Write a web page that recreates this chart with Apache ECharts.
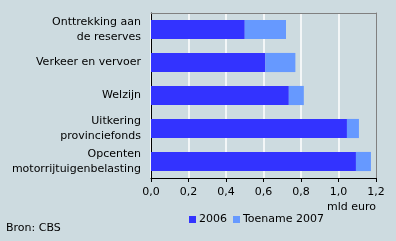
<!DOCTYPE html>
<html><head><meta charset="utf-8">
<script src="https://cdn.jsdelivr.net/npm/echarts@6/dist/echarts.min.js"></script>
<style>html,body{margin:0;padding:0;background:#cddbe0;}#c{width:396px;height:241px;}</style>
</head><body><div id="c"></div>
<script>
var categories = ['Onttrekking aan\nde reserves', 'Verkeer en vervoer', 'Welzijn', 'Uitkering\nprovinciefonds', 'Opcenten\nmotorrijtuigenbelasting'];
var values2006 = [0.50, 0.61, 0.735, 1.045, 1.093];
var valuesToename = [0.22, 0.16, 0.08, 0.064, 0.08];
var xTicks = [0, 0.2, 0.4, 0.6, 0.8, 1.0, 1.2];
var seriesNames = ['2006', 'Toename 2007'];

var font = 'DejaVu Sans';
var chart = echarts.init(document.getElementById('c'), null, {renderer: 'canvas'});
chart.setOption({
  backgroundColor: '#cddbe0',
  animation: false,
  textStyle: {fontFamily: font, fontSize: 11, color: '#000'},
  grid: {left: 151, right: 20, top: 13, bottom: 63, show: false},
  legend: {
    data: seriesNames, left: 184, top: 209, itemWidth: 7, itemHeight: 7, itemGap: 6, icon: 'rect',
    textStyle: {fontFamily: font, fontSize: 11, color: '#000', padding: [0,0,0,-2]}
  },
  graphic: [
    {type: 'text', left: 6, top: 223, style: {text: 'Bron: CBS', font: '11px "DejaVu Sans"', fill: '#000'}},
    {type: 'text', right: 20, top: 202, style: {text: 'mld euro', font: '11px "DejaVu Sans"', fill: '#000'}}
  ],
  xAxis: [{
    type: 'value', min: xTicks[0], max: xTicks[xTicks.length-1], interval: 0.2,
    axisLine: {show: true, onZero: false, lineStyle: {color: '#000', width: 1}},
    axisTick: {show: true, length: 4, lineStyle: {color: '#000'}},
    splitLine: {show: true, showMaxLine: false, lineStyle: {color: '#ffffff', width: 1.5, type: 'solid', opacity: 1}},
    axisLabel: {margin: 9, fontFamily: font, fontSize: 11, color: '#000', formatter: function(v){return v.toFixed(1).replace('.', ',');}}
  }, {
    type: 'value', position: 'top', min: xTicks[0], max: xTicks[xTicks.length-1], interval: 0.2,
    axisLine: {show: true, onZero: false, lineStyle: {color: '#808080', width: 1}},
    axisTick: {show: false}, axisLabel: {show: false}, splitLine: {show: false}
  }],
  yAxis: [{
    type: 'category', data: categories, inverse: true,
    axisLine: {show: true, onZero: false, lineStyle: {color: '#000', width: 1}},
    axisTick: {show: false},
    splitLine: {show: false},
    axisLabel: {margin: 10, fontFamily: font, fontSize: 11, color: '#000', lineHeight: 14.5, align: 'right'}
  }, {
    type: 'category', data: categories, inverse: true, position: 'right',
    axisLine: {show: true, onZero: false, lineStyle: {color: '#808080', width: 1}},
    axisTick: {show: false}, axisLabel: {show: false}, splitLine: {show: false}
  }],
  series: [
    {name: seriesNames[0], type: 'bar', stack: 's', data: values2006, barWidth: '58%', itemStyle: {color: '#3333ff'}},
    {name: seriesNames[1], type: 'bar', stack: 's', data: valuesToename, barWidth: '58%', itemStyle: {color: '#6699ff'}}
  ]
});
</script>
</body></html>
